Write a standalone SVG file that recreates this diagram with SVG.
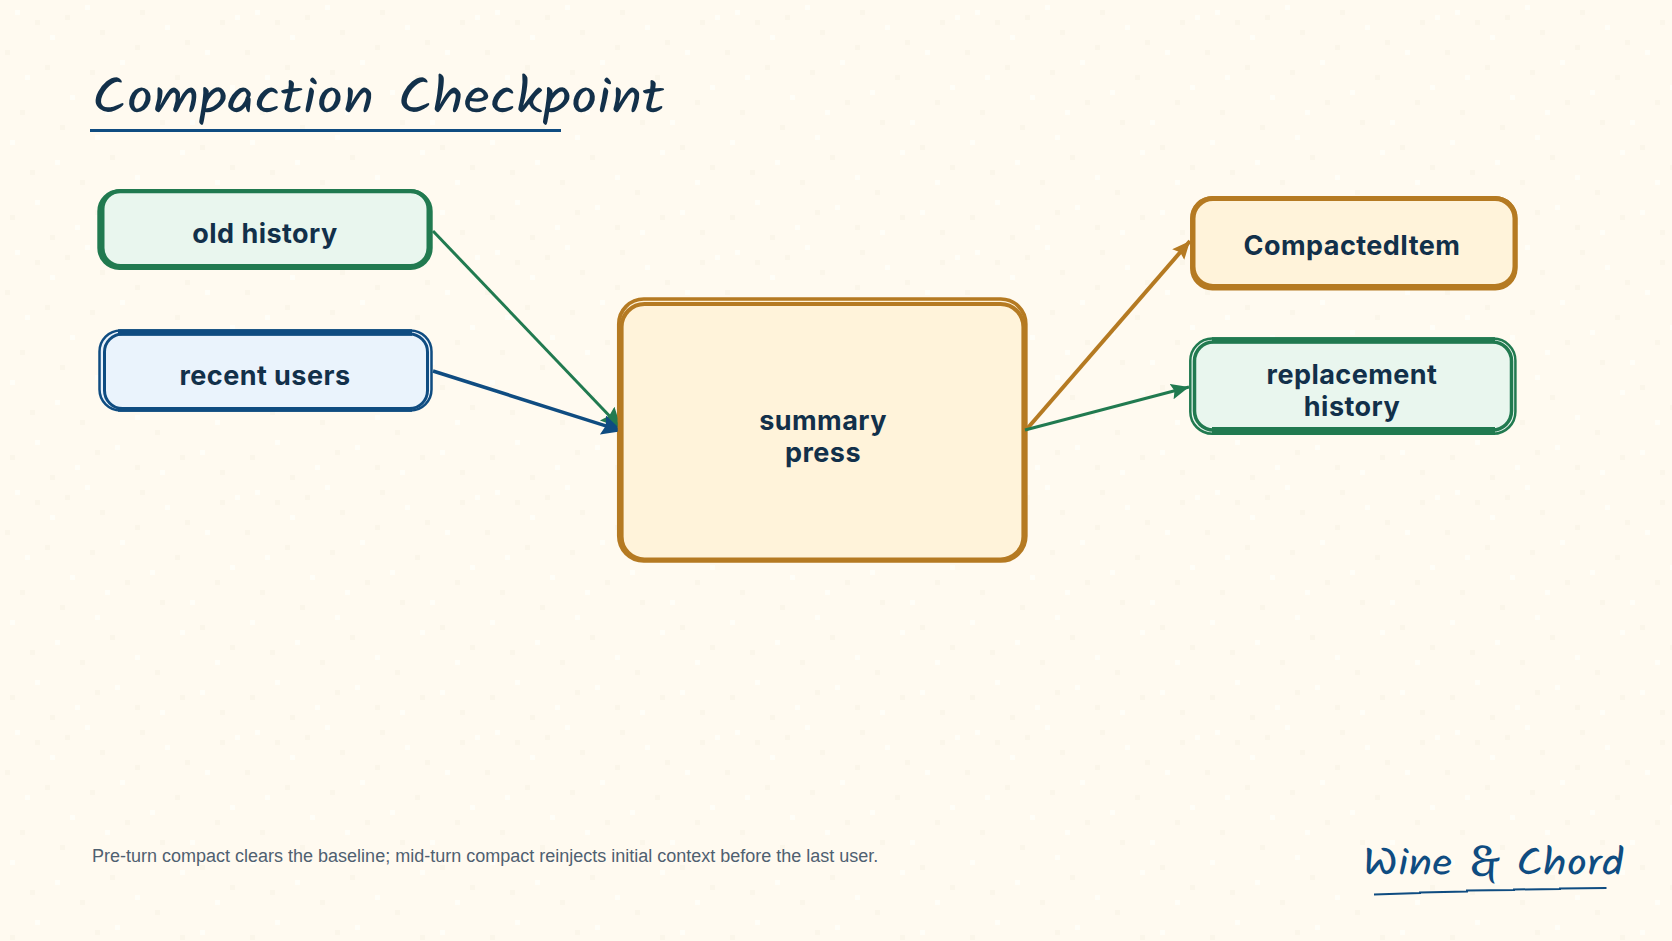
<svg xmlns="http://www.w3.org/2000/svg" width="1672" height="941" viewBox="0 0 1672 941">
<style>
.hand{font-family:"Kalam","Caveat",cursive}
.lbl{font-family:"Inter","Liberation Sans",Arial,sans-serif;font-weight:700;font-size:27px;letter-spacing:.45px;fill:#12304a;text-anchor:middle}
.foot{font-family:"Liberation Sans",Arial,sans-serif;font-size:18px;fill:#4f6070}
.g{stroke:#217a50;fill:none}.b{stroke:#0f4c81;fill:none}.a{stroke:#b57a22;fill:none}
</style>
<defs>
<pattern id="n" width="240" height="240" patternUnits="userSpaceOnUse">
<path fill="#fffef8" d="M15 10h5v5h-5zM50 35h5v5h-5zM85 5h5v5h-5zM120 60h5v5h-5zM165 25h5v5h-5zM205 50h5v5h-5zM25 75h5v5h-5zM70 95h5v5h-5zM105 110h5v5h-5zM150 90h5v5h-5zM190 120h5v5h-5zM230 85h5v5h-5zM10 140h5v5h-5zM55 160h5v5h-5zM95 135h5v5h-5zM135 175h5v5h-5zM180 150h5v5h-5zM215 180h5v5h-5zM35 200h5v5h-5zM75 225h5v5h-5zM115 205h5v5h-5zM160 230h5v5h-5zM200 210h5v5h-5zM235 15h5v5h-5z"/>
<path fill="#fbf6ea" d="M35 20h5v5h-5zM65 15h5v5h-5zM100 30h5v5h-5zM140 10h5v5h-5zM185 40h5v5h-5zM220 20h5v5h-5zM5 50h5v5h-5zM45 65h5v5h-5zM90 70h5v5h-5zM135 45h5v5h-5zM175 75h5v5h-5zM215 100h5v5h-5zM20 110h5v5h-5zM60 125h5v5h-5zM125 100h5v5h-5zM160 120h5v5h-5zM200 145h5v5h-5zM30 170h5v5h-5zM80 180h5v5h-5zM110 155h5v5h-5zM155 190h5v5h-5zM230 165h5v5h-5zM10 215h5v5h-5zM50 235h5v5h-5zM95 210h5v5h-5zM135 225h5v5h-5zM180 215h5v5h-5zM220 230h5v5h-5z"/>
</pattern>
<clipPath id="cl"><rect width="617.5" height="941"/></clipPath>
<marker id="mg" markerUnits="userSpaceOnUse" markerWidth="20" markerHeight="20" refX="18" refY="8" orient="auto"><path d="M0 0L18 8L0 16L3 8Z" fill="#217a50"/></marker>
<marker id="ma" markerUnits="userSpaceOnUse" markerWidth="20" markerHeight="20" refX="18" refY="8" orient="auto"><path d="M0 0L18 8L0 16L3 8Z" fill="#b57a22"/></marker>
<marker id="mgl" markerUnits="userSpaceOnUse" markerWidth="24" markerHeight="24" refX="20" refY="10" orient="auto"><path d="M0 0L20 10L0 20L3 10Z" fill="#217a50"/></marker>
<marker id="mbl" markerUnits="userSpaceOnUse" markerWidth="24" markerHeight="24" refX="20" refY="10" orient="auto"><path d="M0 0L20 10L0 20L3 10Z" fill="#0f4c81"/></marker>
</defs>
<rect width="1672" height="941" fill="#fffaf0"/>
<rect width="1672" height="941" fill="url(#n)"/>
<text class="hand" transform="translate(93 113) skewX(6)" font-size="50" fill="#12304a" textLength="573" lengthAdjust="spacingAndGlyphs">Compaction Checkpoint</text>
<path d="M90 130.500H561" stroke="#0f4c81" stroke-width="2.800" fill="none"/>
<g id="old-history">
<rect x="99.300" y="191.300" width="331.400" height="76.700" rx="20" class="g" style="fill:#e9f6ee" stroke-width="4"/>
<rect x="102.500" y="191" width="326" height="75" rx="18" class="g" stroke-width="4"/>
<text class="lbl" x="265" y="243">old history</text></g>
<g id="recent-users">
<rect x="99.500" y="330.500" width="332" height="80" rx="21" class="b" style="fill:#eaf3fc" stroke-width="2.500"/>
<rect x="104.500" y="334" width="323" height="74.500" rx="18" class="b" stroke-width="3"/>
<path d="M118 332.500H412" class="b" stroke-width="6.500"/><path d="M118 410H412" class="b" stroke-width="3.500"/>
<text class="lbl" x="265" y="385">recent users</text></g>
<g id="summary-press">
<rect x="618.800" y="299" width="407" height="262" rx="25" class="a" style="fill:#fff3da" stroke-width="3.700"/>
<rect x="621.500" y="304" width="402" height="255.500" rx="23" class="a" stroke-width="4.200"/>
<text class="lbl" x="823" y="430">summary</text><text class="lbl" x="823" y="462">press</text></g>
<g id="compacted-item">
<rect x="1192.300" y="198.300" width="323" height="90" rx="20" class="a" style="fill:#fff3da" stroke-width="4.500"/>
<rect x="1193" y="198.500" width="322" height="88" rx="20" class="a" stroke-width="5"/>
<text class="lbl" x="1352" y="255">CompactedItem</text></g>
<g id="replacement-history">
<rect x="1190.300" y="338.600" width="325.100" height="95.100" rx="22" class="g" style="fill:#e9f6ee" stroke-width="2.500"/>
<rect x="1194.500" y="342" width="317" height="88" rx="19" class="g" stroke-width="3.500"/>
<path d="M1212 340.300H1495" class="g" stroke-width="6"/><path d="M1212 431H1495" class="g" stroke-width="8"/>
<text class="lbl" x="1352" y="384">replacement</text><text class="lbl" x="1352" y="416">history</text></g>
<g id="connectors">
<path d="M433 231L621 428" class="g" stroke-width="3" clip-path="url(#cl)" marker-end="url(#mgl)"/>
<path d="M433 371L622 431" class="b" stroke-width="3.500" clip-path="url(#cl)" marker-end="url(#mbl)"/>
<path d="M1026 430L1190 241" class="a" stroke-width="4" marker-end="url(#ma)"/>
<path d="M1025 430L1189 387" class="g" stroke-width="3" marker-end="url(#mg)"/>
</g>
<text class="foot" x="92" y="862">Pre-turn compact clears the baseline; mid-turn compact reinjects initial context before the last user.</text>
<text class="hand" transform="translate(1364 875) skewX(6)" font-size="38" fill="#0f4c81" textLength="261" lengthAdjust="spacingAndGlyphs">Wine <tspan font-family="Merienda,Kalam,cursive">&amp;</tspan> Chord</text>
<path d="M1374 894.500L1420 893V892.500L1467 891.500V890.500L1514 890V889.500L1560 889V888.500L1606.500 888" stroke="#0f4c81" stroke-width="2" fill="none"/>
</svg>
